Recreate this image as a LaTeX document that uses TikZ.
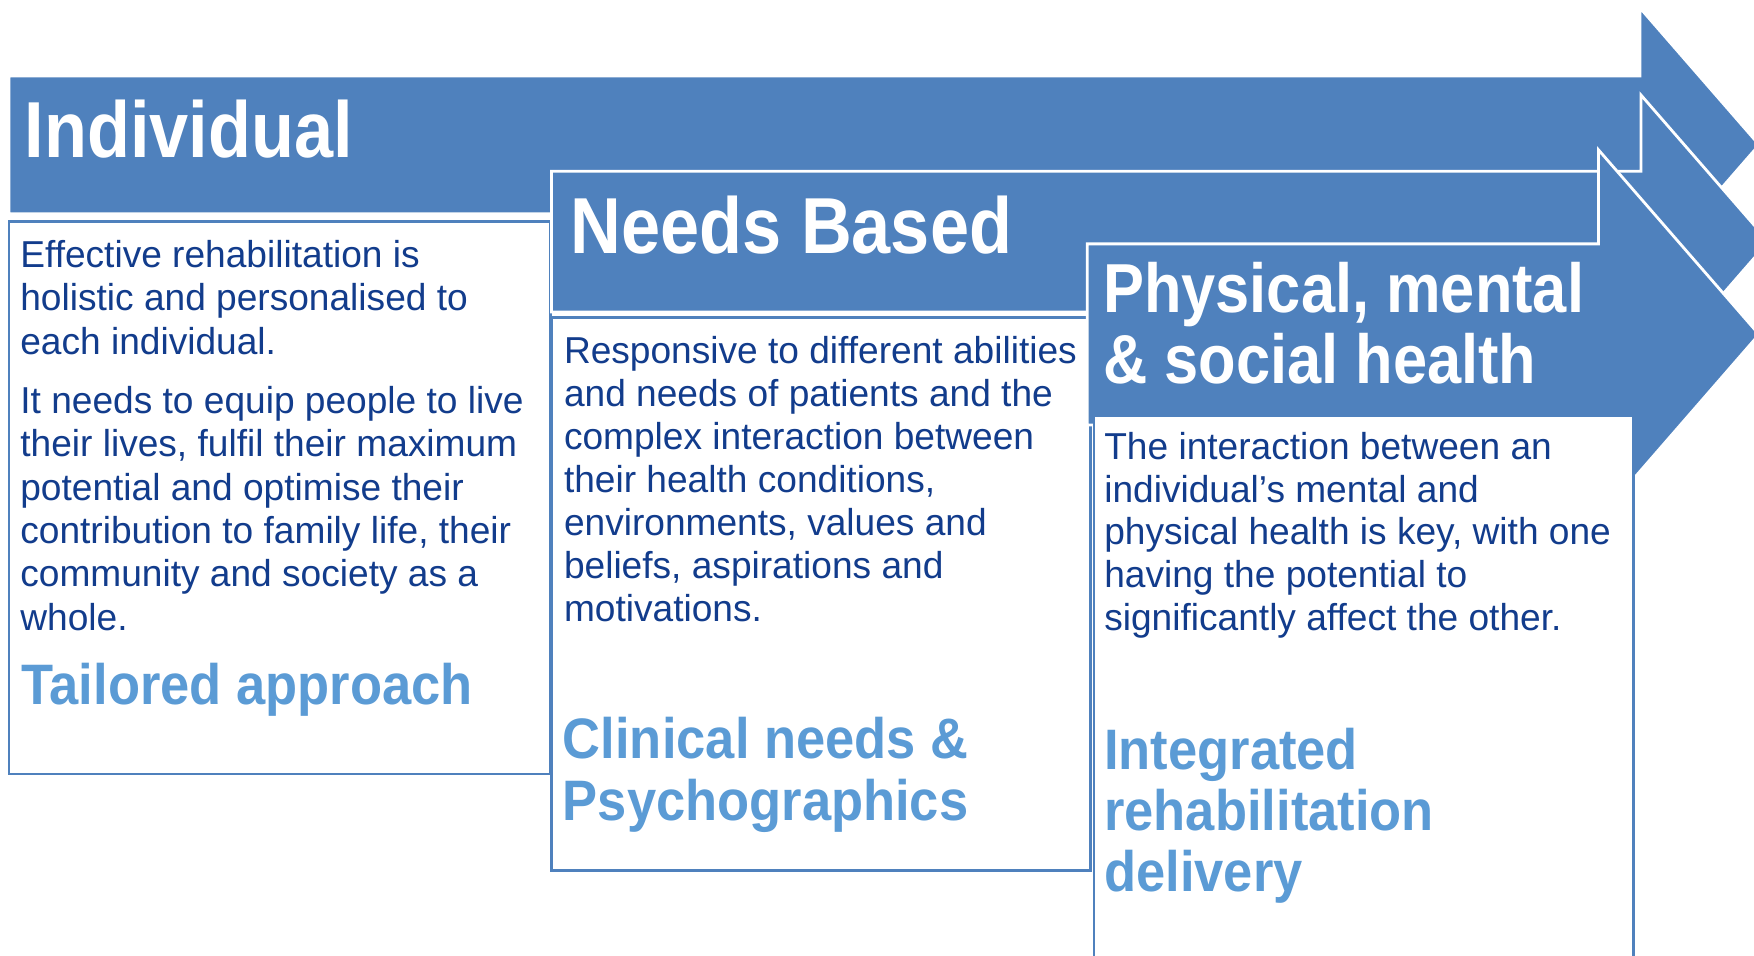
\documentclass[tikz,border=0pt]{standalone}
\usepackage{fontspec}
\setmainfont{Liberation Sans}
\newfontfamily\titlefont[FakeStretch=0.885]{Liberation Sans}
\newfontfamily\bodyfont[FakeStretch=0.99]{Liberation Sans}
\newfontfamily\subfont[FakeStretch=0.92]{Liberation Sans}
\definecolor{arrowblue}{HTML}{4F81BD}
\definecolor{textnavy}{RGB}{18,60,140}
\definecolor{lightblue}{HTML}{5B9BD5}
\newcommand{\firststrut}{\rule{0pt}{0.8em}}
\tikzset{
  blockarrow/.style={fill=arrowblue, draw=white, line width=2.5pt, line join=miter},
  panel/.style={fill=white, draw=arrowblue, line width=2.4pt},
  titletext/.style={text=white, inner sep=0pt, align=left,
    font=\titlefont\bfseries\fontsize{71}{75}\selectfont},
  titlesmall/.style={text=white, inner sep=0pt, align=left, anchor=north west,
    font=\titlefont\bfseries\fontsize{62}{63.6}\selectfont},
  bodytext/.style={text=textnavy, inner sep=0pt, align=left, anchor=north west},
  subtext/.style={text=lightblue, inner sep=0pt, align=left, anchor=north west}
}
\begin{document}
\begin{tikzpicture}[x=1pt, y=-1pt]
\useasboundingbox (0,0) rectangle (1568,854);
\clip (0,0) rectangle (1568,854);
\fill[white] (0,0) rectangle (1568,854);

% Arrow 1 and panel 1
\path[blockarrow] (8,68) -- (1466,68) -- (1466,7) -- (1572.6,129.5) -- (1466,252) -- (1466,191) -- (8,191) -- cycle;
\path[panel] (8,198) rectangle (492,692);

% Arrow 2 and panel 2
\path[blockarrow] (493,153) -- (1467,153) -- (1467,85) -- (1581,216) -- (1467,347) -- (1467,279) -- (493,279) -- cycle;
\path[panel] (493,284) rectangle (975,778);

% Arrow 3 and panel 3
\path[blockarrow] (972,218) -- (1429,218) -- (1429,134) -- (1572.5,299) -- (1429,464) -- (1429,380) -- (972,380) -- cycle;
\path[panel] (978,372) rectangle (1460,880);

% Titles
\node[titletext, anchor=base west] (t1) at (22,141) {Individual};
\node[titletext, anchor=base west] (t2) at (510,227) {Needs Based};
\node[titlesmall] (t3) at (986,229.4) {\firststrut Physical, mental\\\& social health};

% Body texts
\node[bodytext, font=\bodyfont\fontsize{33.5}{39}\selectfont] (b1a) at (18,211.7)
  {\firststrut Effective rehabilitation is\\holistic and personalised to\\each individual.};
\node[bodytext, font=\bodyfont\fontsize{33.5}{38.7}\selectfont] (b1b) at (18,342.7)
  {\firststrut It needs to equip people to live\\their lives, fulfil their maximum\\potential and optimise their\\contribution to family life, their\\community and society as a\\whole.};
\node[bodytext, font=\bodyfont\fontsize{33.5}{38.5}\selectfont] (b2) at (504,297.9)
  {\firststrut Responsive to different abilities\\and needs of patients and the\\complex interaction between\\their health conditions,\\environments, values and\\beliefs, aspirations and\\motivations.};
\node[bodytext, font=\bodyfont\fontsize{33.5}{38.2}\selectfont] (b3) at (987,383.7)
  {\firststrut The interaction between an\\individual’s mental and\\physical health is key, with one\\having the potential to\\significantly affect the other.};

% Sub headings
\node[subtext, font=\subfont\bfseries\fontsize{51}{55}\selectfont] (s1) at (19,589.2) {\firststrut Tailored approach};
\node[subtext, font=\subfont\bfseries\fontsize{51}{55}\selectfont] (s2) at (503,637.2) {\firststrut Clinical needs \&\\Psychographics};
\node[subtext, font=\subfont\bfseries\fontsize{51}{54.5}\selectfont] (s3) at (987,647.2) {\firststrut Integrated\\rehabilitation\\delivery};
\end{tikzpicture}
\end{document}
